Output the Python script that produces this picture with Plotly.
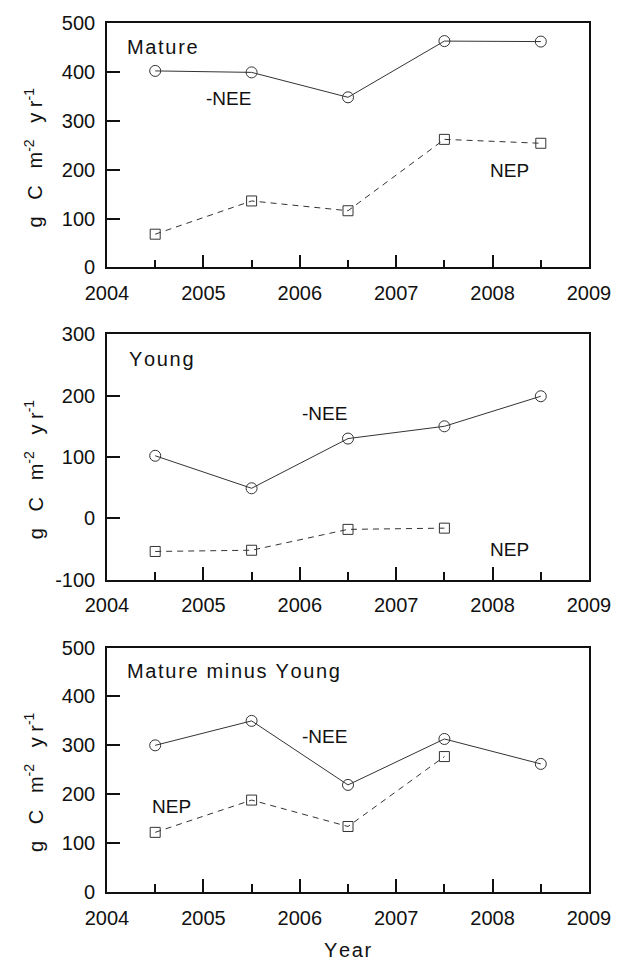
import plotly.graph_objects as go

# ---- data ----
years = [2004.5, 2005.5, 2006.5, 2007.5, 2008.5]
mature_nee = [402, 399, 348, 463, 462]
mature_nep = [68, 136, 116, 262, 254]
young_nee = [102, 49, 130, 150, 199]
young_nep = [-54, -52, -18, -16, None]
diff_nee = [300, 350, 219, 313, 262]
diff_nep = [122, 188, 134, 277, None]

x_ticks = [2004, 2005, 2006, 2007, 2008, 2009]
y_ticks_top = [0, 100, 200, 300, 400, 500]
y_ticks_mid = [-100, 0, 100, 200, 300]
y_ticks_bot = [0, 100, 200, 300, 400, 500]

panel_labels = ["Mature", "Young", "Mature minus Young"]

HS = "\u200a"  # hair space for letter spacing
FONT = "Liberation Sans, Arial, sans-serif"
INK = "#111111"
LINE = "#333333"


def spaced(s):
    return HS.join(list(str(s)))


fig = go.Figure()

panels = [
    (mature_nee, mature_nep, ""),
    (young_nee, young_nep, "2"),
    (diff_nee, diff_nep, "3"),
]
for nee, nep, sfx in panels:
    fig.add_trace(go.Scatter(
        x=years, y=nee, mode="lines+markers", xaxis="x" + sfx, yaxis="y" + sfx,
        line=dict(color=LINE, width=1),
        marker=dict(symbol="circle-open", size=11, color=LINE, line=dict(width=1)),
        showlegend=False, connectgaps=False))
    fig.add_trace(go.Scatter(
        x=years, y=nep, mode="lines+markers", xaxis="x" + sfx, yaxis="y" + sfx,
        line=dict(color=LINE, width=1, dash="6px,5px"),
        marker=dict(symbol="square-open", size=10, color=LINE, line=dict(width=1)),
        showlegend=False, connectgaps=False))

ydomains = [[0.7187, 1.0], [0.3594, 0.6418], [0.0, 0.2813]]
yranges = [[0, 500], [-100, 300], [0, 500]]
ytickvals = [y_ticks_top, y_ticks_mid, y_ticks_bot]

common_x = dict(
    range=[2004, 2009], tickmode="array", tickvals=x_ticks,
    ticktext=[str(v) for v in x_ticks],
    ticks="inside", ticklen=13, tickwidth=1.5, tickcolor=INK,
    minor=dict(ticks="inside", ticklen=8, tickwidth=1.5, tickcolor=INK,
               tickmode="array", tickvals=years),
    showline=True, linecolor=INK, linewidth=1.6, mirror=True,
    showgrid=False, zeroline=False,
    tickfont=dict(family=FONT, size=20, color=INK),
    ticklabelstandoff=7, ticklabeloverflow="allow",
)

layout_axes = {}
for i, (dom, rng, tv) in enumerate(zip(ydomains, yranges, ytickvals)):
    sfx = "" if i == 0 else str(i + 1)
    xa = dict(common_x)
    xa["anchor"] = "y" + sfx
    xa["domain"] = [0, 1]
    layout_axes["xaxis" + sfx] = xa
    layout_axes["yaxis" + sfx] = dict(
        domain=dom, range=rng, anchor="x" + sfx,
        tickmode="array", tickvals=tv, ticktext=[str(v) for v in tv],
        ticks="inside", ticklen=13, tickwidth=1.5, tickcolor=INK,
        showline=True, linecolor=INK, linewidth=1.6, mirror=True,
        showgrid=False, zeroline=False,
        tickfont=dict(family=FONT, size=20, color=INK),
        ticklabelstandoff=6, ticklabeloverflow="allow",
    )

fig.update_layout(
    width=623, height=964,
    margin=dict(l=107, r=24, t=21, b=72),
    paper_bgcolor="white", plot_bgcolor="white",
    font=dict(family=FONT, size=20, color=INK),
    **layout_axes,
)

TF = dict(family=FONT, size=20, color=INK)
ann = []
# panel labels
label_pos = [(2004.186, 451, "x", "y"), (2004.203, 259, "x2", "y2"), (2004.186, 452, "x3", "y3")]
for (x, y, xr, yr), txt in zip(label_pos, panel_labels):
    ann.append(dict(x=x, y=y, xref=xr, yref=yr, text=spaced(txt),
                    showarrow=False, xanchor="left", yanchor="middle", font=TF))
# series labels
series_pos = [
    (2005.256, 345, "x", "y", "-NEE"), (2008.172, 198, "x", "y", "NEP"),
    (2006.254, 171, "x2", "y2", "-NEE"), (2008.172, -50, "x2", "y2", "NEP"),
    (2006.254, 319, "x3", "y3", "-NEE"), (2004.67, 174, "x3", "y3", "NEP"),
]
SF = dict(family=FONT, size=19, color=INK)
for x, y, xr, yr, txt in series_pos:
    ann.append(dict(x=x, y=y, xref=xr, yref=yr, text=txt, showarrow=False,
                    xanchor="center", yanchor="middle", font=SF))
# y-axis titles
SP3 = "   "
ytitle = "g" + SP3 + "C" + SP3 + "m<sup>-2</sup>" + SP3 + "y r<sup>-1</sup>"
for i in range(3):
    sfx = "" if i == 0 else str(i + 1)
    ann.append(dict(x=-0.152, y=0.449, xref="x" + sfx + " domain", yref="y" + sfx + " domain",
                    text=ytitle, textangle=-90, showarrow=False,
                    xanchor="center", yanchor="middle", font=TF))
# x-axis title
ann.append(dict(x=0.5, y=-0.0815, xref="paper", yref="paper", text=spaced("Year"),
                showarrow=False, xanchor="center", yanchor="bottom", font=TF))
fig.update_layout(annotations=ann)

fig.write_html("out.html")
